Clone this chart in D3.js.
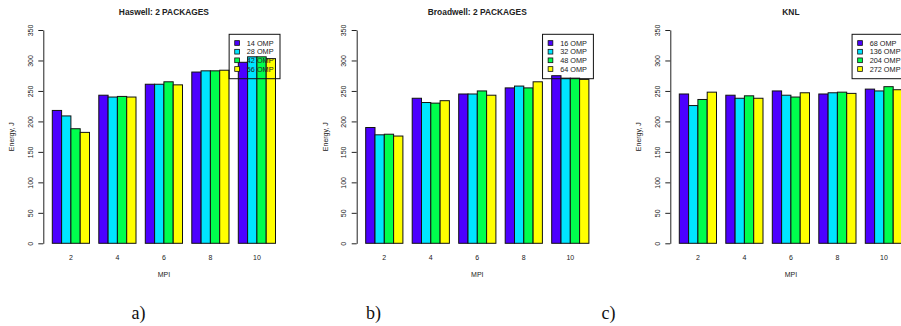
<!DOCTYPE html>
<html>
<head>
<meta charset="utf-8">
<script src="https://cdn.jsdelivr.net/npm/d3@7"></script>
<style>
  body { margin: 0; background: #fff; overflow: hidden; }
  svg { display: block; font-family: "Liberation Sans", Arial, sans-serif; }
</style>
</head>
<body>
<svg id="chart"></svg>
<script>
// ---- data ----
const mpi = ['2', '4', '6', '8', '10']
const colors = ['#4C00FF', '#00E5FF', '#00FF4D', '#FFFF00']
const yTicks = [0, 50, 100, 150, 200, 250, 300, 350]

const titles = ['Haswell: 2 PACKAGES', 'Broadwell: 2 PACKAGES', 'KNL']
const captions = ['a)', 'b)', 'c)']

const haswellOmp = ['14 OMP', '28 OMP', '42 OMP', '56 OMP']
const broadwellOmp = ['16 OMP', '32 OMP', '48 OMP', '64 OMP']
const knlOmp = ['68 OMP', '136 OMP', '204 OMP', '272 OMP']

// one row per MPI value, one entry per OMP setting
const haswellEnergy = [
    [218, 209, 188, 182],
    [243, 240, 241, 240],
    [261, 261, 265, 260],
    [281, 283, 283, 284],
    [297, 306, 306, 303]
]
const broadwellEnergy = [
    [190, 178, 179, 176],
    [238, 231, 230, 234],
    [245, 245, 250, 243],
    [255, 258, 255, 265],
    [275, 271, 271, 269]
]
const knlEnergy = [
    [245, 226, 236, 248],
    [243, 238, 242, 238],
    [250, 243, 240, 247],
    [245, 247, 248, 246],
    [253, 250, 257, 252]
]

const width = 901,
    height = 326

const svg = d3.select('#chart').attr('width', width).attr('height', height)

// panel layout (all panels share the same inner geometry)
const panelX = [0, 313.4, 627]
const captionX = [138.5, 373.5, 608.5]
const axisX = 43.3

const y = d3.scaleLinear().domain([0, 350]).range([243.3, 30])
const x = d3.scaleBand().domain(mpi).range([52.3, 275.5]).paddingInner(0.2).paddingOuter(0)

function drawPanel(i, omp, energy) {
    const g = svg.append('g').attr('transform', `translate(${panelX[i]},0)`)
    const xs = d3.scaleBand().domain(d3.range(omp.length)).range([0, x.bandwidth()])

    // bars
    g.append('g').selectAll('g')
        .data(energy)
        .enter().append('g')
        .attr('transform', (d, j) => `translate(${x(mpi[j])},0)`)
        .selectAll('rect')
        .data(d => d)
        .enter().append('rect')
        .attr('x', (d, k) => xs(k))
        .attr('y', d => y(d))
        .attr('width', xs.bandwidth())
        .attr('height', d => y(0) - y(d))
        .attr('fill', (d, k) => colors[k])
        .attr('stroke', '#111')
        .attr('stroke-width', 1)

    // y axis, R style: labels parallel to the axis
    const ax = g.append('g')
        .attr('transform', `translate(${axisX},0)`)
        .call(d3.axisLeft(y).tickValues(yTicks).tickSize(5).tickSizeOuter(0))
    ax.select('.domain').attr('stroke', '#222')
    ax.selectAll('.tick line').attr('stroke', '#222')
    ax.selectAll('.tick text')
        .attr('x', 0).attr('dy', 0)
        .attr('transform', 'translate(-10.2,0) rotate(-90)')
        .attr('text-anchor', 'middle')
        .attr('font-size', 7)
        .attr('fill', '#222')
        .style('font-family', '"Liberation Sans", Arial, sans-serif')

    // category labels, no tick marks
    g.append('g').selectAll('text')
        .data(mpi)
        .enter().append('text')
        .attr('x', d => x(d) + x.bandwidth() / 2)
        .attr('y', 260.2)
        .attr('text-anchor', 'middle')
        .attr('font-size', 7)
        .attr('fill', '#222')
        .text(d => d)

    g.append('text')
        .attr('x', (x.range()[0] + x.range()[1]) / 2)
        .attr('y', 276.8)
        .attr('text-anchor', 'middle')
        .attr('font-size', 7)
        .attr('fill', '#222')
        .text('MPI')

    g.append('text')
        .attr('transform', `translate(14.3,${(y(0) + y(350)) / 2}) rotate(-90)`)
        .attr('text-anchor', 'middle')
        .attr('font-size', 7)
        .attr('fill', '#222')
        .text('Energy, J')

    g.append('text')
        .attr('x', (x.range()[0] + x.range()[1]) / 2)
        .attr('y', 15.3)
        .attr('text-anchor', 'middle')
        .attr('font-size', 8.4)
        .attr('font-weight', 'bold')
        .attr('fill', '#222')
        .text(titles[i])

    // legend, topright, no background so bars show through
    const leg = g.append('g')
    const rowY = [43, 51.7, 60.3, 69]
    const labels = leg.selectAll('text')
        .data(omp)
        .enter().append('text')
        .attr('y', (d, k) => rowY[k] + 2.5)
        .attr('font-size', 7.3)
        .attr('fill', '#222')
        .text(d => d)
    let maxW = 0
    labels.each(function() { maxW = Math.max(maxW, this.getComputedTextLength()) })
    const right = 280,
        left = right - (5.6 + 4.7 + 7.3 + maxW + 6.5)
    labels.attr('x', left + 5.6 + 4.7 + 7.3)
    leg.selectAll('rect')
        .data(omp)
        .enter().append('rect')
        .attr('x', left + 5.6)
        .attr('y', (d, k) => rowY[k] - 2.35)
        .attr('width', 4.7)
        .attr('height', 4.7)
        .attr('fill', (d, k) => colors[k])
        .attr('stroke', '#111')
        .attr('stroke-width', 0.8)
    leg.append('rect')
        .attr('x', left)
        .attr('y', 34.3)
        .attr('width', right - left)
        .attr('height', 44.4)
        .attr('fill', 'none')
        .attr('stroke', '#111')
        .attr('stroke-width', 1)

    // subfigure caption
    svg.append('text')
        .attr('x', captionX[i])
        .attr('y', 319)
        .attr('text-anchor', 'middle')
        .attr('font-size', 18)
        .attr('fill', '#111')
        .style('font-family', '"Liberation Serif", "DejaVu Serif", serif')
        .text(captions[i])
}

drawPanel(0, haswellOmp, haswellEnergy)
drawPanel(1, broadwellOmp, broadwellEnergy)
drawPanel(2, knlOmp, knlEnergy)
</script>
</body>
</html>
